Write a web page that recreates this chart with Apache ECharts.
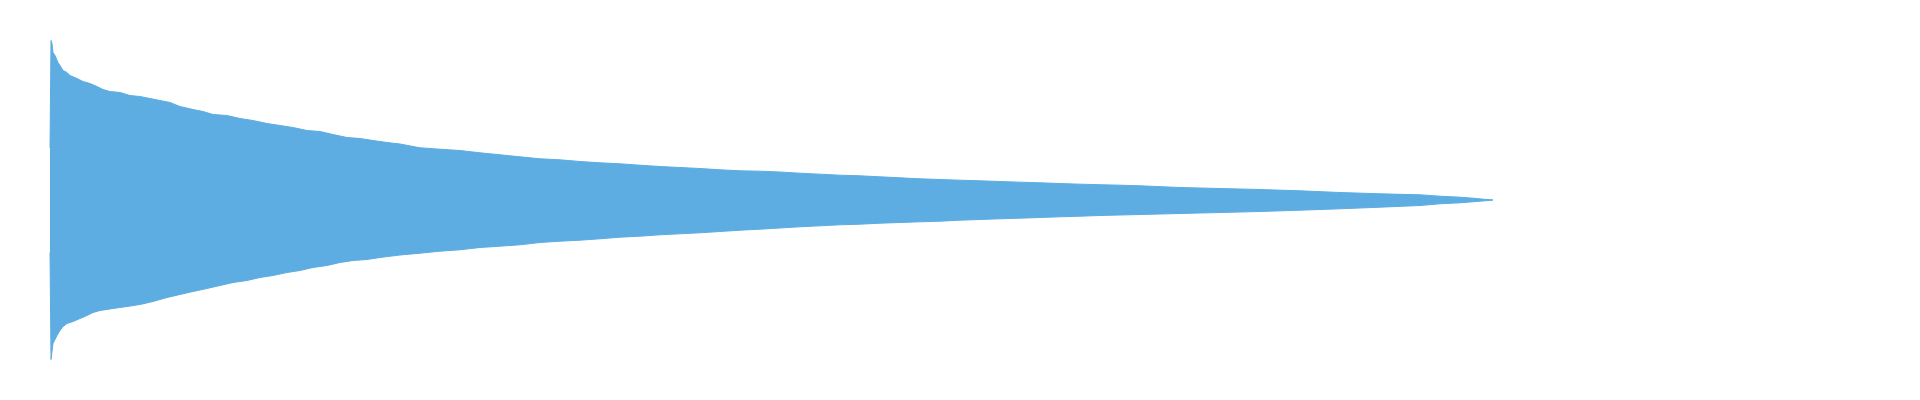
<!DOCTYPE html>
<html>
<head>
<meta charset="utf-8">
<title>Waveform</title>
<script src="https://cdn.jsdelivr.net/npm/echarts@6/dist/echarts.min.js"></script>
<style>
  html, body { margin: 0; padding: 0; background: #fff; }
  #chart { width: 1920px; height: 400px; }
</style>
</head>
<body>
<div id="chart"></div>
<script>
// sample positions and peak amplitudes (upper envelope)
var hiX = [0, 1, 2, 3, 5, 8, 10, 13, 17, 20, 27, 33, 40, 47, 53, 60, 70, 80, 90, 100,
  110, 120, 130, 143, 153, 163, 177, 190, 203, 217, 230, 243, 257, 270, 283, 297, 310, 323, 337, 350,
  370, 390, 410, 430, 450, 470, 490, 510, 530, 550, 570, 590, 610, 630, 650, 670, 690, 710, 730, 750,
  770, 790, 810, 830, 850, 870, 890, 910, 930, 950, 970, 990, 1010, 1030, 1050, 1070, 1090, 1130, 1170, 1210,
  1250, 1290, 1330, 1370, 1390, 1410, 1423, 1437, 1443];
var hiVal = [52, 159.5, 156.5, 147.5, 144.5, 137.5, 134.5, 129.5, 127.5, 124.5, 121.5, 118.5, 116.5, 113.5, 110.5, 108.5, 107.5, 104.5, 103.5, 101.5,
  99.5, 97.5, 93.5, 90.5, 88.5, 85.5, 84.5, 81.5, 79.5, 76.5, 74.5, 72.5, 69.5, 68.5, 65.5, 62.5, 61.5, 59.5, 57.5, 56,
  52.2, 50.8, 49.5, 47.2, 45.2, 43.2, 41.2, 40.2, 38.5, 37.2, 36.2, 34.8, 33.5, 32.5, 31.5, 30.2, 29.2, 28.8, 28, 26.8,
  25.8, 24.8, 24.2, 23.2, 22.2, 21.2, 20.5, 19.8, 19.2, 18.5, 17.8, 17.2, 16.5, 15.8, 15.3, 14.8, 14.2, 12.5, 11.5, 10.5,
  9.2, 7.5, 6.2, 5.2, 3.8, 2.8, 1.8, 0.5, 0.2];

// lower envelope
var loX = [0, 1, 3, 7, 10, 13, 17, 23, 30, 37, 43, 50, 63, 77, 90, 103, 117, 130, 143, 157,
  170, 183, 197, 210, 223, 237, 250, 263, 277, 290, 303, 317, 330, 350, 370, 390, 410, 430, 450, 470,
  490, 510, 530, 550, 570, 590, 610, 630, 650, 670, 690, 710, 730, 750, 770, 790, 810, 830, 850, 870,
  890, 910, 930, 950, 970, 990, 1010, 1030, 1050, 1090, 1130, 1170, 1210, 1250, 1290, 1330, 1370, 1390, 1410, 1430,
  1443];
var loVal = [-52.5, -159.5, -143.5, -135.5, -130.5, -126.5, -123.5, -121.5, -118.5, -115.5, -112.5, -110.5, -108.5, -106.5, -104.5, -101.5, -97.5, -94.5, -91.5, -88.5,
  -85.5, -82.5, -80.5, -77.5, -75.5, -72.5, -70.5, -67.5, -65.5, -62.5, -60.5, -59.5, -57.5, -55, -53.2, -51.2, -49.8, -47.5, -46.2, -44.8,
  -42.5, -41.2, -40.2, -38.8, -37.2, -36.2, -34.8, -33.8, -32.8, -31.5, -30.2, -29.2, -28, -26.8, -25.8, -24.8, -24.2, -23.2, -22.5, -21.8,
  -21.2, -20.2, -19.5, -18.8, -18.2, -17.5, -16.8, -16.2, -15.5, -14.5, -13.5, -12.5, -11.5, -10.2, -8.8, -7.2, -5.5, -3.8, -2.8, -1.2,
  -0.2];

var waveColor = '#5dade2';

function pairs(xs, ys) {
  return xs.map(function (x, i) { return [x, ys[i]]; });
}

function wave(name, data) {
  return {
    name: name,
    type: 'line',
    data: data,
    symbol: 'none',
    smooth: false,
    silent: true,
    animation: false,
    lineStyle: { width: 1, color: waveColor },
    areaStyle: { color: waveColor, opacity: 1, origin: 'auto' }
  };
}

var option = {
  animation: false,
  // zero line sits on a whole pixel so the two halves meet without a seam
  grid: { left: 50, right: 0, top: 40, bottom: 40 },
  xAxis: {
    type: 'value',
    min: 0,
    max: 1870,
    show: false
  },
  yAxis: {
    type: 'value',
    min: -160,
    max: 160,
    show: false
  },
  series: [
    wave('peak', pairs(hiX, hiVal)),
    wave('trough', pairs(loX, loVal))
  ]
};

var chart = echarts.init(document.getElementById('chart'));
chart.setOption(option);
</script>
</body>
</html>
